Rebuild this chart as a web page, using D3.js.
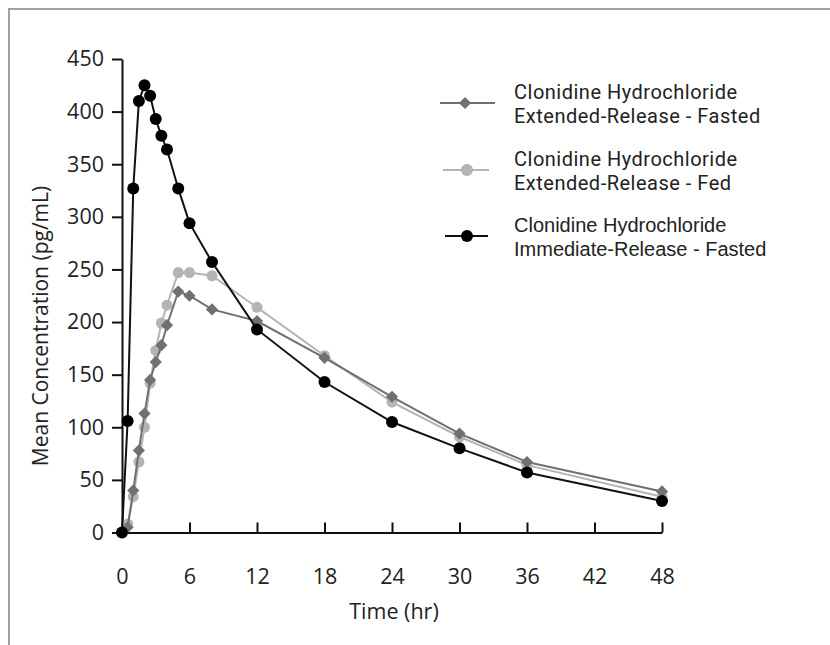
<!DOCTYPE html>
<html>

<head>
    <meta charset="utf-8">
    <title>Clonidine concentration</title>
    <script src="https://d3js.org/d3.v7.min.js"></script>
    <style>
        body { margin: 0; background: #fff; }
        text { font-family: "Open Sans", sans-serif; fill: #222; }
    </style>
</head>

<body>
    <svg id="chart" width="830" height="645"></svg>
    <script>
        // time points (hr)
        const times = [0, 0.5, 1, 1.5, 2, 2.5, 3, 3.5, 4, 5, 6, 8, 12, 18, 24, 30, 36, 48];
        // mean concentrations (pg/mL)
        const erFasted = [0, 5, 40, 78, 113, 145, 162, 178, 197, 229, 225, 212, 201, 166, 129, 94, 67, 39];
        const erFed = [0, 8, 34, 67, 100, 142, 173, 199, 216, 247, 247, 244, 214, 168, 124, 91, 64, 34];
        const irFasted = [0, 106, 327, 410, 425, 415, 393, 377, 364, 327, 294, 257, 193, 143, 105, 80, 57, 30];

        const xTicks = [0, 6, 12, 18, 24, 30, 36, 42, 48];
        const yTicks = [0, 50, 100, 150, 200, 250, 300, 350, 400, 450];

        const legendLabels = [
            ["Clonidine Hydrochloride", "Extended-Release - Fasted"],
            ["Clonidine Hydrochloride", "Extended-Release - Fed"],
            ["Clonidine Hydrochloride", "Immediate-Release - Fasted"]
        ];

        const svg = d3.select("#chart");

        // frame around the figure
        svg.append("path")
            .attr("d", "M9,645 V9 H830")
            .attr("fill", "none")
            .attr("stroke", "#a0a0a0")
            .attr("stroke-width", 2);

        const x = d3.scaleLinear().domain([0, 48]).range([122, 662]);
        const y = d3.scaleLinear().domain([0, 450]).range([532.5, 59]);

        // axes
        const gx = svg.append("g")
            .attr("transform", "translate(0," + y(0) + ")")
            .call(d3.axisBottom(x).tickValues(xTicks).tickSize(10).tickPadding(26).tickSizeOuter(0));
        gx.selectAll(".tick line").attr("y1", -10).attr("y2", 0);
        const gy = svg.append("g")
            .attr("transform", "translate(" + x(0) + ",0)")
            .call(d3.axisLeft(y).tickValues(yTicks).tickSize(10).tickPadding(8).tickSizeOuter(0));

        svg.selectAll(".domain").attr("stroke", "#111").attr("stroke-width", 2);
        svg.selectAll(".tick line").attr("stroke", "#111").attr("stroke-width", 2);
        svg.selectAll(".tick text").style("font-size", "21.5px").attr("fill", "#222");

        svg.append("text")
            .attr("x", 394).attr("y", 619)
            .attr("text-anchor", "middle")
            .style("font-size", "21.5px")
            .text("Time (hr)");

        svg.append("text")
            .attr("transform", "translate(48,326) rotate(-90)")
            .attr("text-anchor", "middle")
            .style("font-size", "21px")
            .text("Mean Concentration (pg/mL)");

        const series = [
            { values: erFed, color: "#b4b4b4", line: "#b4b4b4", shape: "circle", r: 5.5 },
            { values: erFasted, color: "#707070", line: "#707070", shape: "diamond" },
            { values: irFasted, color: "#000", line: "#111", shape: "circle", r: 6 }
        ];

        const line = d3.line().x((d, i) => x(times[i])).y(d => y(d));
        const diamond = d3.symbol().type(d3.symbolDiamond2).size(95);

        series.forEach(s => {
            svg.append("path")
                .attr("d", line(s.values))
                .attr("fill", "none")
                .attr("stroke", s.line)
                .attr("stroke-width", 2);
            const g = svg.append("g");
            if (s.shape === "circle") {
                g.selectAll("circle")
                    .data(s.values)
                    .join("circle")
                    .attr("cx", (d, i) => x(times[i]))
                    .attr("cy", d => y(d))
                    .attr("r", s.r)
                    .attr("fill", s.color);
            } else {
                g.selectAll("path")
                    .data(s.values)
                    .join("path")
                    .attr("transform", (d, i) => "translate(" + x(times[i]) + "," + y(d) + ")")
                    .attr("d", diamond)
                    .attr("fill", s.color);
            }
        });

        // legend
        const legend = [
            { y: 103, color: "#707070", shape: "diamond", x1: 440, x2: 495, font: "Roboto", size: 20, ls: 0.5 },
            { y: 170, color: "#b4b4b4", shape: "circle", x1: 443, x2: 489, font: "Roboto", size: 20, ls: 0.5 },
            { y: 236, color: "#000", shape: "circle", x1: 445, x2: 488, font: "Liberation Sans", size: 20, ls: 0 }
        ];
        legend.forEach((l, i) => {
            svg.append("line")
                .attr("x1", l.x1).attr("x2", l.x2)
                .attr("y1", l.y).attr("y2", l.y)
                .attr("stroke", l.color === "#000" ? "#111" : l.color)
                .attr("stroke-width", 2);
            if (l.shape === "circle") {
                svg.append("circle").attr("cx", 467).attr("cy", l.y).attr("r", 6).attr("fill", l.color);
            } else {
                svg.append("path").attr("transform", "translate(465," + l.y + ")").attr("d", diamond).attr("fill", l.color);
            }
            legendLabels[i].forEach((txt, k) => {
                svg.append("text")
                    .attr("x", 514)
                    .attr("y", l.y - 4 + k * 24)
                    .style("font-family", l.font)
                    .style("font-size", l.size + "px")
                    .style("letter-spacing", l.ls + "px")
                    .attr("fill", "#333")
                    .text(txt);
            });
        });
    </script>
</body>

</html>
